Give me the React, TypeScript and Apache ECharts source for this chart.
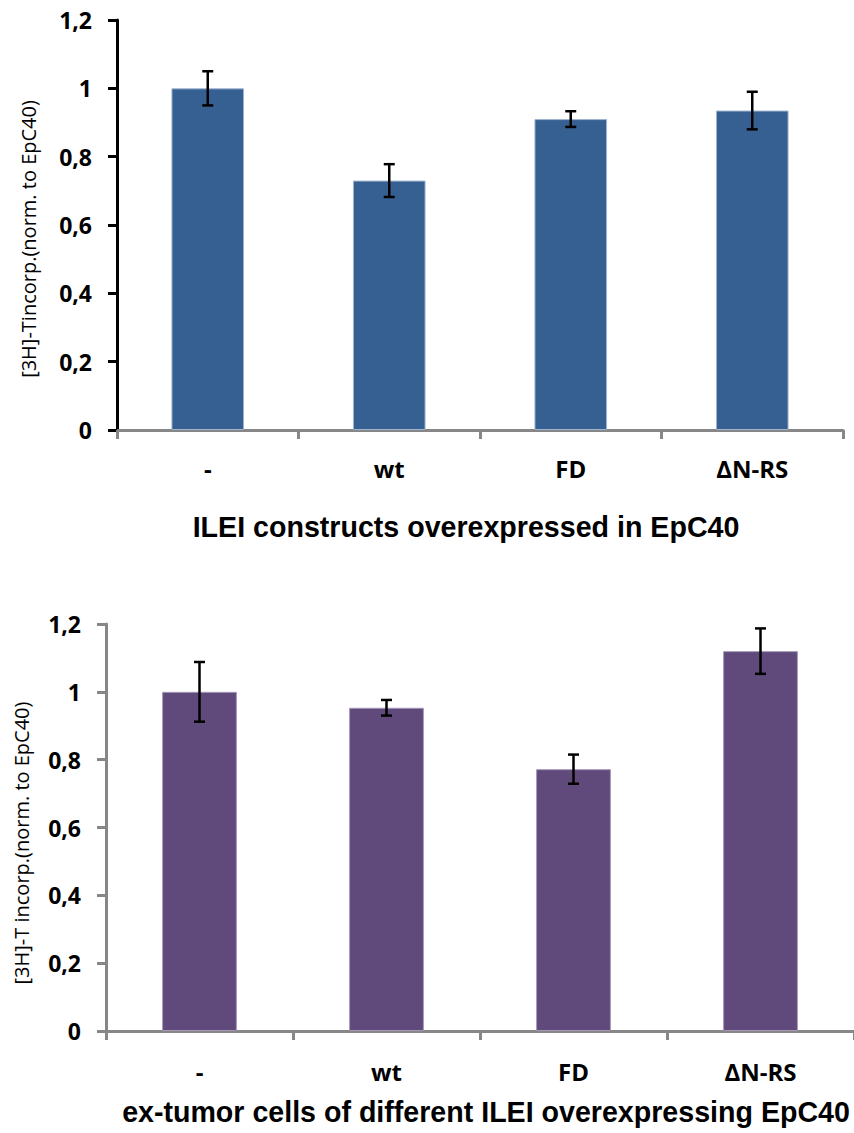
import React, { useEffect, useRef } from "react";
import * as echarts from "echarts";

const categories = ["-", "wt", "FD", "ΔN-RS"];
const topValues = [1.0, 0.73, 0.91, 0.935];
const topErrors = [0.05, 0.048, 0.023, 0.055];
const bottomValues = [1.0, 0.953, 0.772, 1.12];
const bottomErrors = [0.088, 0.023, 0.043, 0.067];
const yMin = 0;
const yMax = 1.2;
const yStep = 0.2;
const topYTitle = "[3H]-Tincorp.(norm. to EpC40)";
const bottomYTitle = "[3H]-T incorp.(norm. to EpC40)";
const topTitle = "ILEI constructs overexpressed in EpC40";
const bottomTitle = "ex-tumor cells of different ILEI overexpressing EpC40";

const TICK_FONT = "'Open Sans', 'Noto Sans', sans-serif";
const TITLE_FONT = "'Liberation Sans', Arial, sans-serif";

function fmt(v: number) {
  return Number(v.toFixed(1)).toString().replace(".", ",");
}

function errorData(values: number[], errs: number[]) {
  return values.map((v, i) => [i, v - errs[i], v + errs[i]]);
}

function renderError(params: any, api: any) {
  const x = api.value(0);
  const lo = api.coord([x, api.value(1)]);
  const hi = api.coord([x, api.value(2)]);
  const cap = 5.5;
  const style = { stroke: "#000", lineWidth: 2.5 };
  return {
    type: "group",
    children: [
      { type: "line", shape: { x1: hi[0], y1: hi[1], x2: lo[0], y2: lo[1] }, style },
      { type: "line", shape: { x1: hi[0] - cap, y1: hi[1], x2: hi[0] + cap, y2: hi[1] }, style },
      { type: "line", shape: { x1: lo[0] - cap, y1: lo[1], x2: lo[0] + cap, y2: lo[1] }, style },
    ],
  };
}

export default function App() {
  const ref = useRef<HTMLDivElement>(null);
  useEffect(() => {
    if (!ref.current) return;
    const chart = echarts.init(ref.current, undefined, { renderer: "svg" });
    const gray = "#878787";
    const yAxisCommon = (gridIndex: number, lineColor: string, margin: number) => ({
      type: "value",
      gridIndex,
      min: yMin,
      max: yMax,
      interval: yStep,
      splitLine: { show: false },
      axisLine: { show: true, lineStyle: { color: lineColor, width: 3 } },
      axisTick: { show: true, inside: false, length: 9, lineStyle: { color: lineColor, width: 3 } },
      axisLabel: {
        margin,
        formatter: (v: number) => fmt(v),
        color: "#000",
        fontFamily: TICK_FONT,
        fontWeight: "bold",
        fontSize: 23,
      },
    });
    const xAxisCommon = (gridIndex: number, margin: number) => ({
      type: "category",
      gridIndex,
      data: categories,
      axisLine: { show: true, lineStyle: { color: gray, width: 3 } },
      axisTick: { show: true, length: 9, lineStyle: { color: gray, width: 3 } },
      axisLabel: {
        margin,
        color: "#000",
        fontFamily: TICK_FONT,
        fontWeight: "bold",
        fontSize: 24,
      },
    });
    chart.setOption({
      animation: false,
      backgroundColor: "#fff",
      grid: [
        { left: 117, top: 20, width: 726, height: 410 },
        { left: 106, top: 624, width: 755, height: 407 },
      ],
      xAxis: [xAxisCommon(0, 26), xAxisCommon(1, 28)],
      yAxis: [yAxisCommon(0, "#000", 25), yAxisCommon(1, gray, 25)],
      series: [
        {
          type: "bar",
          xAxisIndex: 0,
          yAxisIndex: 0,
          data: topValues,
          barWidth: "40%",
          itemStyle: { color: "#376092", borderColor: "#9fb4d0", borderWidth: 1 },
          z: 2,
        },
        {
          type: "custom",
          xAxisIndex: 0,
          yAxisIndex: 0,
          data: errorData(topValues, topErrors),
          encode: { x: 0, y: [1, 2] },
          renderItem: renderError,
          z: 5,
        },
        {
          type: "bar",
          xAxisIndex: 1,
          yAxisIndex: 1,
          data: bottomValues,
          barWidth: "40%",
          itemStyle: { color: "#604a7b", borderColor: "#a597b8", borderWidth: 1 },
          z: 2,
        },
        {
          type: "custom",
          xAxisIndex: 1,
          yAxisIndex: 1,
          data: errorData(bottomValues, bottomErrors),
          encode: { x: 0, y: [1, 2] },
          renderItem: renderError,
          z: 5,
        },
      ],
      graphic: [
        {
          type: "text",
          x: 28,
          y: 239,
          rotation: Math.PI / 2,
          style: {
            text: topYTitle,
            font: `20px ${TICK_FONT}`,
            fill: "#000",
            align: "center",
            verticalAlign: "middle",
          },
        },
        {
          type: "text",
          x: 21,
          y: 843,
          rotation: Math.PI / 2,
          style: {
            text: bottomYTitle,
            font: `20px ${TICK_FONT}`,
            fill: "#000",
            align: "center",
            verticalAlign: "middle",
          },
        },
        {
          type: "text",
          x: 466,
          y: 527,
          style: {
            text: topTitle,
            font: `bold 28.6px ${TITLE_FONT}`,
            fill: "#000",
            align: "center",
            verticalAlign: "middle",
          },
        },
        {
          type: "text",
          x: 486,
          y: 1112,
          style: {
            text: bottomTitle,
            font: `bold 28.6px ${TITLE_FONT}`,
            fill: "#000",
            align: "center",
            verticalAlign: "middle",
          },
        },
      ],
    });
    return () => chart.dispose();
  }, []);
  return (
    <div
      ref={ref}
      style={{ position: "absolute", left: 0, top: 0, width: 854, height: 1133 }}
    />
  );
}
